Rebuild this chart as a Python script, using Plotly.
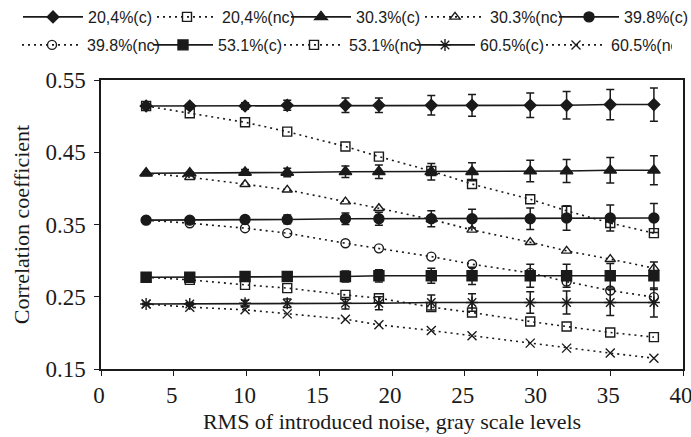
import plotly.graph_objects as go

x_noise = [3.1, 6.1, 9.9, 12.8, 16.8, 19.1, 22.7, 25.5, 29.5, 32.0, 35.0, 38.0]

c204 = [0.514, 0.514, 0.514, 0.515, 0.515, 0.515, 0.515, 0.515, 0.515, 0.515, 0.516, 0.516]
c204_err = [0.001, 0.002, 0.0045, 0.007, 0.010, 0.010, 0.0135, 0.015, 0.017, 0.019, 0.021, 0.023]
nc204 = [0.514, 0.504, 0.4915, 0.4785, 0.458, 0.444, 0.424, 0.406, 0.385, 0.369, 0.352, 0.338]

c303 = [0.421, 0.421, 0.422, 0.422, 0.423, 0.423, 0.423, 0.423, 0.424, 0.424, 0.425, 0.425]
c303_err = [0.001, 0.002, 0.004, 0.006, 0.008, 0.0095, 0.0115, 0.0125, 0.015, 0.016, 0.0177, 0.020]
nc303 = [0.421, 0.4155, 0.4057, 0.398, 0.3817, 0.3725, 0.357, 0.3425, 0.3255, 0.3135, 0.302, 0.2896]

c398 = [0.356, 0.356, 0.357, 0.357, 0.358, 0.358, 0.358, 0.358, 0.358, 0.359, 0.359, 0.359]
c398_err = [0.001, 0.002, 0.004, 0.006, 0.008, 0.009, 0.011, 0.013, 0.015, 0.017, 0.018, 0.020]
nc398 = [0.356, 0.3518, 0.3449, 0.338, 0.324, 0.317, 0.3056, 0.295, 0.283, 0.271, 0.2586, 0.2495]

c531 = [0.277, 0.277, 0.278, 0.278, 0.278, 0.279, 0.279, 0.279, 0.279, 0.279, 0.279, 0.279]
c531_err = [0.001, 0.002, 0.004, 0.005, 0.0075, 0.0085, 0.0104, 0.012, 0.016, 0.016, 0.017, 0.019]
nc531 = [0.277, 0.2734, 0.2665, 0.262, 0.2526, 0.248, 0.2356, 0.2282, 0.2157, 0.2088, 0.2005, 0.1941]

c605 = [0.240, 0.240, 0.241, 0.241, 0.241, 0.241, 0.242, 0.242, 0.242, 0.242, 0.242, 0.242]
c605_err = [0.001, 0.002, 0.004, 0.006, 0.008, 0.009, 0.0105, 0.012, 0.015, 0.016, 0.018, 0.020]
nc605 = [0.240, 0.2356, 0.2319, 0.2263, 0.219, 0.2111, 0.2033, 0.196, 0.1858, 0.1789, 0.172, 0.165]

x_ticks = [0, 5, 10, 15, 20, 25, 30, 35, 40]
y_ticks = [0.15, 0.25, 0.35, 0.45, 0.55]

INK = "#1a1a1a"
SERIF = "Liberation Serif, Times New Roman, serif"
SANS = "Liberation Sans, Arial, sans-serif"

series = [
    ("20,4%(c)", c204, c204_err, "diamond", 9, "solid", "legend"),
    ("20,4%(nc)", nc204, None, "square-open", 9, "dot", "legend"),
    ("30.3%(c)", c303, c303_err, "triangle-up", 11, "solid", "legend"),
    ("30.3%(nc)", nc303, None, "triangle-up-open", 9, "dot", "legend"),
    ("39.8%(c)", c398, c398_err, "circle", 10, "solid", "legend"),
    ("39.8%(nc)", nc398, None, "circle-open", 9, "dot", "legend2"),
    ("53.1%(c)", c531, c531_err, "square", 10, "solid", "legend2"),
    ("53.1%(nc)", nc531, None, "square-open", 9, "dot", "legend2"),
    ("60.5%(c)", c605, c605_err, "asterisk-open", 10, "solid", "legend2"),
    ("60.5%(nc)", nc605, None, "x-thin-open", 9, "dot", "legend2"),
]

fig = go.Figure()
for name, ys, err, sym, size, dash, leg in series:
    kw = {}
    if err is not None:
        kw["error_y"] = dict(type="data", array=err, visible=True,
                             color=INK, thickness=1.5, width=4)
    fig.add_trace(go.Scatter(
        x=x_noise, y=ys, name=name, mode="lines+markers",
        line=dict(color=INK, width=1.6,
                  dash="solid" if dash == "solid" else "2px,4px"),
        marker=dict(symbol=sym, size=size, color=INK,
                    line=dict(color=INK, width=1.4)),
        legend=leg, **kw))

legend_common = dict(
    orientation="h", xref="paper", yref="paper",
    xanchor="left", yanchor="middle",
    font=dict(family=SANS, size=16, color=INK),
    bgcolor="rgba(0,0,0,0)", borderwidth=0,
    entrywidthmode="pixels", itemwidth=60,
)

PLOT_L, PLOT_W = 101, 582
PLOT_T, PLOT_H = 80, 289

fig.update_layout(
    width=691, height=437,
    margin=dict(l=PLOT_L, r=691 - PLOT_L - PLOT_W, t=PLOT_T, b=437 - PLOT_T - PLOT_H,
                autoexpand=False),
    plot_bgcolor="white", paper_bgcolor="white",
    legend=dict(x=(18 - PLOT_L) / PLOT_W, y=1 + (PLOT_T - 17) / PLOT_H,
                entrywidth=59, **legend_common),
    legend2=dict(x=(17 - PLOT_L) / PLOT_W, y=1 + (PLOT_T - 45) / PLOT_H,
                 entrywidth=56, **legend_common),
    xaxis=dict(
        range=[0, 40], tickvals=x_ticks, ticktext=[str(v) for v in x_ticks],
        showgrid=False, zeroline=False, showline=True, mirror=True, automargin=False,
        linecolor=INK, linewidth=1.5, ticks="outside", ticklen=5,
        tickcolor=INK, tickwidth=1.2, ticklabeloverflow="allow", ticklabelshift=-2,
        tickfont=dict(family=SERIF, size=23, color=INK),
        title=dict(text="RMS of introduced noise, gray scale levels", standoff=6,
                   font=dict(family=SERIF, size=22, color=INK)),
    ),
    yaxis=dict(
        range=[0.15, 0.55], tickvals=y_ticks, ticktext=[f"{v:.2f}" for v in y_ticks],
        showgrid=False, zeroline=False, showline=True, mirror=True, automargin=False,
        linecolor=INK, linewidth=1.5, ticks="outside", ticklen=5,
        tickcolor=INK, tickwidth=1.2, ticklabelstandoff=4,
        tickfont=dict(family=SERIF, size=23, color=INK),
        title=dict(text="Correlation coefficient", standoff=10,
                   font=dict(family=SERIF, size=22, color=INK)),
    ),
)

fig.write_html("out.html", config={"displayModeBar": False},
               post_script="document.body.style.margin='0';")
